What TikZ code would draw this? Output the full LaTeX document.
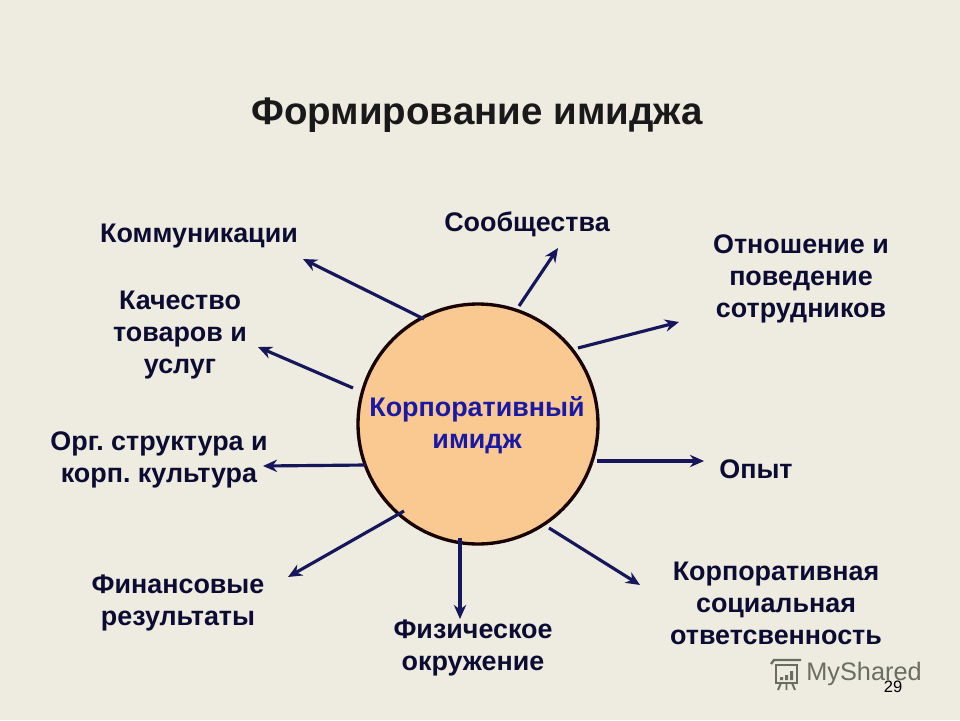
\documentclass[tikz,border=0pt]{standalone}
\usepackage{fontspec}
\setmainfont{Liberation Sans}
\usetikzlibrary{arrows.meta}
\definecolor{paper}{RGB}{238,235,224}
\definecolor{hubfill}{RGB}{250,200,145}
\definecolor{arrowblue}{RGB}{22,22,90}
\definecolor{hubtext}{RGB}{25,25,165}
\definecolor{textnavy}{RGB}{12,12,50}
\definecolor{logogray}{RGB}{105,110,95}
\frenchspacing
\tikzset{
	lbl/.style={font=\bfseries\fontsize{15.3}{18.2}\selectfont,text=textnavy,align=center,inner sep=0pt},
	spoke/.style={draw=arrowblue,line width=1.8pt,-{Stealth[length=8pt,width=7pt]}}
}
\begin{document}
\begin{tikzpicture}[x=0.02cm,y=-0.02cm]
	\useasboundingbox[fill=paper] (0,0) rectangle (960,720);
	\node[inner sep=0pt,font=\bfseries\fontsize{21.9}{26}\selectfont,text=black!90] (title) at (477,115) {Формирование имиджа};
	\node[circle,draw=black!90!red,line width=1.9pt,fill=hubfill,minimum size=4.8cm,inner sep=0pt] (hub) at (478,424) {};
	\node[lbl,text=hubtext] (hubtxt) at (477,425) {Корпоративный\\имидж};
	% labels round the circle
	\node[lbl] (komm) at (199,236) {Коммуникации};
	\node[lbl] (soob) at (527,224) {Сообщества};
	\node[lbl] (otn) at (801,279) {Отношение и\\поведение\\сотрудников};
	\node[lbl] (kach) at (180,335) {Качество\\товаров и\\услуг};
	\node[lbl] (org) at (159,460) {Орг. структура и\\корп. культура};
	\node[lbl] (opyt) at (756,469) {Опыт};
	\node[lbl] (fin) at (178,603) {Финансовые\\результаты};
	\node[lbl] (fiz) at (473,648) {Физическое\\окружение};
	\node[lbl] (ksr) at (776,603) {Корпоративная\\социальная\\ответсвенность};
	% arrow ends
	\coordinate (a1) at (424,319);
	\coordinate (b1) at (303,259);
	\coordinate (a2) at (519,306);
	\coordinate (b2) at (558,248);
	\coordinate (a3) at (578,348);
	\coordinate (b3) at (679,322);
	\coordinate (a4) at (353,388);
	\coordinate (b4) at (258,347);
	\coordinate (a5) at (366,465);
	\coordinate (b5) at (263,466);
	\coordinate (a6) at (597,461);
	\coordinate (b6) at (704,461);
	\coordinate (a7) at (404,511);
	\coordinate (b7) at (288,577);
	\coordinate (a8) at (460,538);
	\coordinate (b8) at (460,619);
	\coordinate (a9) at (549,528);
	\coordinate (b9) at (640,585);
	\foreach \i in {1,...,9}
		\draw[spoke] (a\i) -- (b\i);
	% logo in the corner
	\draw[logogray,line width=1.1pt,fill=paper] (776,665) rectangle (797,683);
	\draw[logogray,line width=1.3pt] (771,664) -- (774,660) -- (801,660);
	\fill[logogray] (780,677) rectangle (783,680) (785,675) rectangle (788,680) (790,671) rectangle (793,680);
	\draw[logogray,line width=1.1pt] (781,683) -- (778,690) (786.5,683) -- (786.5,690) (792,683) -- (795,690);
	\node[inner sep=0pt,font=\fontsize{14.4}{16}\selectfont,text=logogray,anchor=west] (logotxt) at (806,674) {MyShared};
	\node[inner sep=0pt,font=\fontsize{9.4}{11}\selectfont,text=black] (pagenum) at (893,687) {29};
\end{tikzpicture}
\end{document}
